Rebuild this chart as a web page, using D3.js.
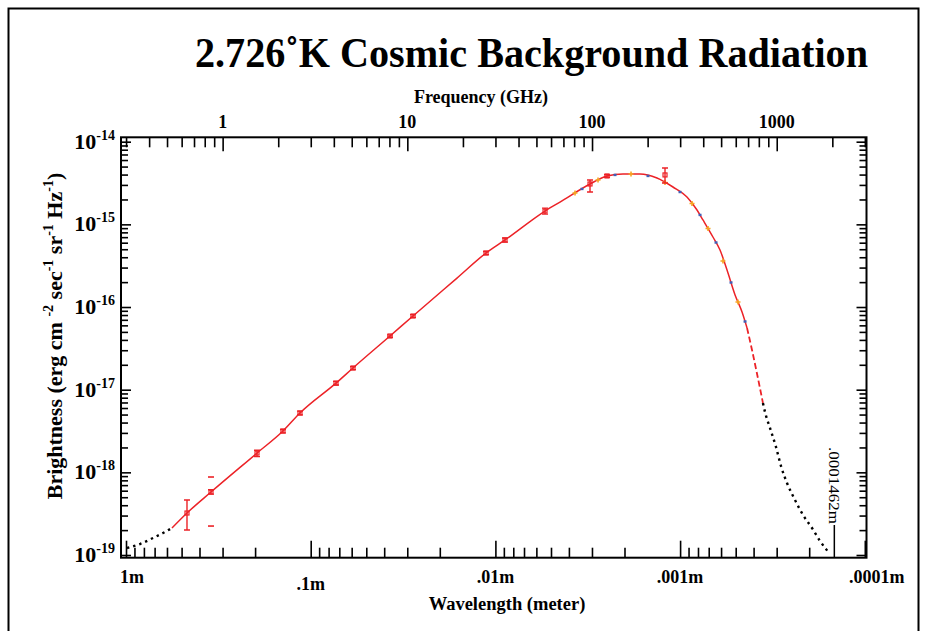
<!DOCTYPE html>
<html>
<head>
<meta charset="utf-8">
<script src="https://cdn.jsdelivr.net/npm/d3@7"></script>
<style>
body{margin:0;background:#fff}
text{font-family:"Liberation Serif","Times New Roman",serif}
</style>
</head>
<body>
<svg id="chart" width="927" height="631"></svg>
<script>
// ---- values (wavelength in m, brightness in erg/cm2/s/sr/Hz) ----
var curveWave   = [0.5637,0.4675,0.3466,0.1953,0.1413,0.1143,0.07295,0.05902,0.03721,0.02793,0.01614,0.01124,0.008872,0.005387,0.004469,0.003074,0.002487,0.002038,0.001649,0.001334,0.001093,0.000918,0.000810,0.000752,0.000664,0.000608,0.000557,0.000504,0.000462,0.000434,0.000408,0.000384,0.000356]
var curveBright = [2.12e-19,3.22e-19,5.78e-19,1.71e-18,3.16e-18,5.22e-18,1.20e-17,1.83e-17,4.46e-17,7.78e-17,2.24e-16,4.50e-16,6.47e-16,1.45e-15,1.86e-15,3.08e-15,3.85e-15,4.07e-15,4.07e-15,3.64e-15,2.83e-15,2.14e-15,1.49e-15,1.13e-15,7.03e-16,4.90e-16,2.80e-16,1.40e-16,8.70e-17,5.57e-17,3.02e-17,1.59e-17,6.90e-18]

var tailLeftWave    = [0.9876,0.8397,0.7142,0.6305,0.5637]
var tailLeftBright  = [1.215e-19,1.358e-19,1.605e-19,1.845e-19,2.122e-19]
var tailRightWave   = [0.000356,0.000347,0.0003261,0.0003026,0.0002842,0.0002637,0.0002387,0.0002161,0.0001931,0.0001748,0.0001562]
var tailRightBright = [6.90e-18,5.37e-18,3.44e-18,2.03e-18,1.19e-18,7.43e-19,4.63e-19,3.05e-19,2.12e-19,1.48e-19,1.06e-19]

var pointWave   = [0.4675,0.3466,0.1953,0.1413,0.1143,0.07295,0.05902,0.03721,0.02793,0.01124,0.008872,0.005387,0.003074,0.002487,0.001207]
var pointBright = [3.22e-19,5.78e-19,1.71e-18,3.16e-18,5.22e-18,1.20e-17,1.83e-17,4.46e-17,7.78e-17,4.50e-16,6.47e-16,1.45e-15,3.08e-15,3.85e-15,3.96e-15]
var pointLo     = [2.01e-19,5.45e-19,1.55e-18,3.00e-18,4.95e-18,1.14e-17,1.75e-17,4.30e-17,7.50e-17,4.30e-16,6.10e-16,1.33e-15,2.46e-15,3.70e-15,3.17e-15]
var pointHi     = [4.63e-19,6.15e-19,1.85e-18,3.30e-18,5.50e-18,1.26e-17,1.90e-17,4.60e-17,8.10e-17,4.70e-16,6.85e-16,1.57e-15,3.44e-15,4.00e-15,4.81e-15]

var dashWave   = [0.3466,0.3466]
var dashBright = [8.78e-19,2.24e-19]

var firasWave   = [3.707e-3,3.397e-3,2.782e-3,2.251e-3,1.844e-3,1.492e-3,1.207e-3,1.001e-3,8.62e-4,7.80e-4,7.06e-4,6.39e-4,5.86e-4,5.30e-4,4.86e-4,4.45e-4]
var firasBright = [2.39e-15,2.68e-15,3.44e-15,3.96e-15,4.07e-15,3.85e-15,3.21e-15,2.46e-15,1.79e-15,1.30e-15,8.91e-16,6.03e-16,3.60e-16,1.98e-16,1.15e-16,6.68e-17]

var waveTickValues = [1,0.1,0.01,0.001,0.0001]
var waveTickLabels = ["1m",".1m",".01m",".001m",".0001m"]
var freqTickValues = [1,10,100,1000]
var freqTickLabels = ["1","10","100","1000"]
var yTickExps      = [-14,-15,-16,-17,-18,-19]
var markWave  = 0.0001462
var markLabel = ".0001462m"

// ---- layout ----
var svg = d3.select("#chart")
var pLeft=121, pRight=866.5, pTop=137.3, pBottom=557.7
var red="#ec2227"

var xScale = d3.scaleLog().domain([1.0643, 9.79e-5]).range([pLeft,pRight])
var cGHz = 0.299792458
var fScale = d3.scaleLog().domain([cGHz/1.0643, cGHz/9.79e-5]).range([pLeft,pRight])
var yScale = d3.scaleLog().domain([9.275e-20, 1.13e-14]).range([pBottom,pTop])

function zip(a,b){ return a.map(function(v,i){ return [v,b[i]] }) }
function inDom(s){ return function(v){ var d=s.domain(); return v<=Math.max(d[0],d[1]) && v>=Math.min(d[0],d[1]) } }

//---- outer border ----
svg.append("path")
  .attr("d","M8.5,631V8.5H918.5V631")
  .attr("fill","none").attr("stroke","black").attr("stroke-width",2)

//---- tick lists ----
var waveMinor=[], freqMinor=[], yMinor=[], yMajor=[]
for(var k=1;k<=4;k++) for(var m=2;m<=9;m++) waveMinor.push(m*Math.pow(10,-k))
for(var k=-1;k<=3;k++) for(var m=2;m<=9;m++) freqMinor.push(m*Math.pow(10,k))
freqMinor=freqMinor.filter(inDom(fScale))
for(var k=-19;k<=-15;k++) for(var m=2;m<=9;m++) yMinor.push(m*Math.pow(10,k))
yTickExps.forEach(function(e){ yMajor.push(Math.pow(10,e)) })

function tickAxis(axis, tr){
  var g=svg.append("g").attr("transform",tr).call(axis.tickFormat(""))
  g.select(".domain").remove()
  g.selectAll("line").attr("stroke","black").attr("stroke-width",1.6)
}
tickAxis(d3.axisBottom(xScale).tickValues(waveMinor).tickSize(-10),"translate(0,"+pBottom+")")
tickAxis(d3.axisBottom(xScale).tickValues(waveTickValues).tickSize(-17),"translate(0,"+pBottom+")")
tickAxis(d3.axisTop(fScale).tickValues(freqMinor).tickSize(-10),"translate(0,"+pTop+")")
tickAxis(d3.axisTop(fScale).tickValues(freqTickValues).tickSize(-14),"translate(0,"+pTop+")")
tickAxis(d3.axisLeft(yScale).tickValues(yMinor).tickSize(-7),"translate("+pLeft+",0)")
tickAxis(d3.axisLeft(yScale).tickValues(yMajor).tickSize(-10),"translate("+pLeft+",0)")
tickAxis(d3.axisRight(yScale).tickValues(yMinor).tickSize(-7),"translate("+pRight+",0)")
tickAxis(d3.axisRight(yScale).tickValues(yMajor).tickSize(-10),"translate("+pRight+",0)")

svg.append("rect")
  .attr("x",pLeft).attr("y",pTop).attr("width",pRight-pLeft).attr("height",pBottom-pTop)
  .attr("fill","none").attr("stroke","black").attr("stroke-width",2)

//---- curves ----
var line = d3.line()
  .x(function(d){ return xScale(d[0]) })
  .y(function(d){ return yScale(d[1]) })
  .curve(d3.curveMonotoneX)

var curve = zip(curveWave,curveBright)
svg.append("path").datum(curve.slice(0,30))
  .attr("d",line).attr("fill","none").attr("stroke",red).attr("stroke-width",1.5)
svg.append("path").datum(curve.slice(29))
  .attr("d",line).attr("fill","none").attr("stroke",red).attr("stroke-width",1.8)
  .attr("stroke-dasharray","6,3")

svg.selectAll(".tail").data([zip(tailLeftWave,tailLeftBright), zip(tailRightWave,tailRightBright)])
  .enter().append("path")
  .attr("d",line).attr("fill","none").attr("stroke","black").attr("stroke-width",2.4)
  .attr("stroke-dasharray","2.4,4")

//---- FIRAS marks ----
var firas = zip(firasWave,firasBright)
var fg = svg.selectAll(".firas").data(firas).enter().append("g")
  .attr("transform",function(d){ return "translate("+xScale(d[0])+","+yScale(d[1])+")" })
fg.filter(function(d,i){ return i%2==0 }).append("path")
  .attr("d","M-2.5,0H2.5M0,-2.5V2.5").attr("stroke","#f6a623").attr("stroke-width",1.6)
fg.filter(function(d,i){ return i%2==1 }).append("rect")
  .attr("x",-1.5).attr("y",-1.2).attr("width",3).attr("height",2.4).attr("fill","#4060b8")

//---- red points with error bars ----
var pts = pointWave.map(function(w,i){ return {w:w,b:pointBright[i],lo:pointLo[i],hi:pointHi[i]} })
var pg = svg.selectAll(".pt").data(pts).enter().append("g")
pg.append("path")
  .attr("d",function(d){
    var x=xScale(d.w), y0=yScale(d.lo), y1=yScale(d.hi)
    return "M"+x+","+y0+"V"+y1+"M"+(x-3)+","+y0+"H"+(x+3)+"M"+(x-3)+","+y1+"H"+(x+3)
  })
  .attr("fill","none").attr("stroke",red).attr("stroke-width",1.4)
pg.append("rect")
  .attr("x",function(d){ return xScale(d.w)-2 })
  .attr("y",function(d){ return yScale(d.b)-2 })
  .attr("width",4).attr("height",4)
  .attr("fill","none").attr("stroke",red).attr("stroke-width",1.2)

svg.selectAll(".dash").data(zip(dashWave,dashBright)).enter().append("path")
  .attr("d",function(d){ return "M"+(xScale(d[0])-3)+","+yScale(d[1])+"h6" })
  .attr("stroke",red).attr("stroke-width",1.6)

//---- wavelength marker ----
var mx = xScale(markWave)
svg.append("line").attr("x1",mx).attr("x2",mx).attr("y1",525).attr("y2",pBottom)
  .attr("stroke","black").attr("stroke-width",1.5)
svg.append("text")
  .attr("transform","translate("+mx+",524)rotate(90)")
  .attr("text-anchor","end").attr("dy","0.35em")
  .attr("font-size","15px").attr("textLength",77).attr("lengthAdjust","spacingAndGlyphs")
  .text(markLabel)

//---- texts ----
svg.append("text").attr("x",195).attr("y",67)
  .attr("font-size","42px").attr("font-weight","bold")
  .attr("textLength",673).attr("lengthAdjust","spacingAndGlyphs")
  .text("2.726\u02DAK Cosmic Background Radiation")

svg.append("text").attr("x",481).attr("y",103).attr("text-anchor","middle")
  .attr("font-size","18px").attr("font-weight","bold").text("Frequency (GHz)")

svg.selectAll(".flab").data(freqTickValues).enter().append("text")
  .attr("x",function(d){ return fScale(d) }).attr("y",128)
  .attr("text-anchor","middle").attr("font-size","18px").attr("font-weight","bold")
  .text(function(d,i){ return freqTickLabels[i] })

svg.selectAll(".wlab").data(waveTickValues).enter().append("text")
  .attr("x",function(d,i){ return xScale(d) + (i==0 ? 6 : (i==4 ? 12 : 0)) })
  .attr("y",function(d,i){ return i==1 ? 590 : 583 })
  .attr("text-anchor","middle").attr("font-size","18px").attr("font-weight","bold")
  .text(function(d,i){ return waveTickLabels[i] })

svg.append("text").attr("x",507).attr("y",610).attr("text-anchor","middle")
  .attr("font-size","18.5px").attr("font-weight","bold").text("Wavelength (meter)")

var yl = svg.selectAll(".ylab").data(yTickExps).enter().append("text")
  .attr("x",115).attr("y",function(d){ return yScale(Math.pow(10,d))+7 })
  .attr("text-anchor","end").attr("font-weight","bold")
yl.append("tspan").attr("font-size","22px").text("10")
yl.append("tspan").attr("font-size","14px").attr("dy",-9).text(function(d){ return String(d) })

var yt = svg.append("text")
  .attr("transform","translate(62,336)rotate(-90)")
  .attr("text-anchor","middle").attr("font-size","22px").attr("font-weight","bold")
var parts = [["Brightness (erg cm ",0],["-2",1],[" sec",0],["-1",1],[" sr",0],["-1",1],[" Hz",0],["-1",1],[")",0]]
parts.forEach(function(p,i){
  var prevSup = i>0 && parts[i-1][1]
  var t = yt.append("tspan").text(p[0])
  if(p[1]) t.attr("font-size","14px").attr("dy",-9)
  else if(prevSup) t.attr("dy",9)
})
</script>
</body>
</html>
